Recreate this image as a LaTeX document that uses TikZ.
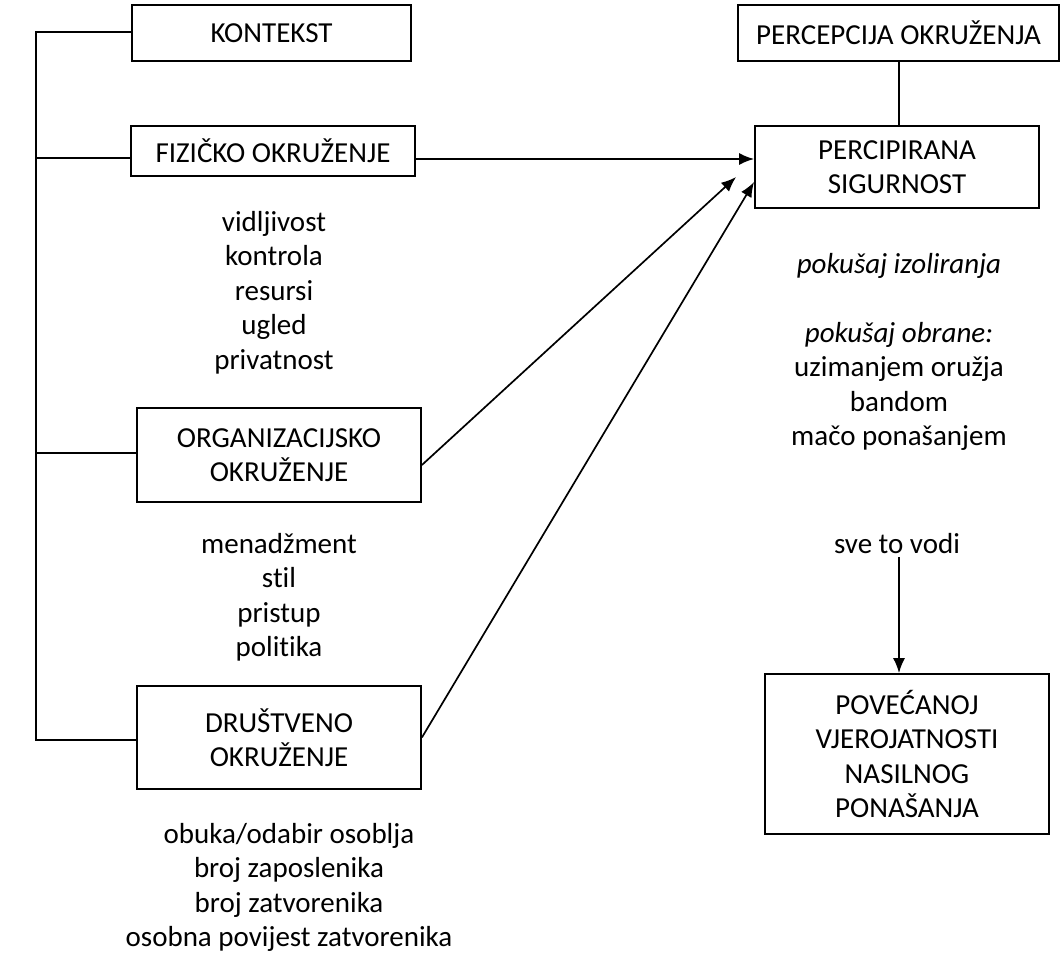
\documentclass[tikz,border=0pt]{standalone}
\usepackage{fontspec}
\setmainfont{Carlito}[Ligatures=CommonOff]
\usetikzlibrary{arrows.meta,calc}
\tikzset{
  box/.style={draw=black, line width=1.8pt, inner sep=0pt, align=center,
    font=\fontsize{29}{34.5}\selectfont, text=black},
  conn/.style={draw=black, line width=1.7pt},
  arr/.style={conn, -{Latex[length=15pt,width=12pt]}},
  lst/.style={inner sep=0pt, align=center, anchor=base, text=black,
    font=\fontsize{29}{34.5}\selectfont}
}
\begin{document}
\begin{tikzpicture}[x=1pt,y=-1pt]
\useasboundingbox (0,0) rectangle (1061,955);
\fill[white] (0,0) rectangle (1061,955);
% boxes
\node[box, minimum width=279pt, minimum height=56pt] (ctx) at (271.5,33) {KONTEKST};
\node[box, minimum width=284pt, minimum height=50pt] (fiz) at (273,151) {FIZIČKO OKRUŽENJE};
\node[box, minimum width=284pt, minimum height=94pt] (org) at (279,455) {ORGANIZACIJSKO\\OKRUŽENJE};
\node[box, minimum width=284pt, minimum height=103pt] (dru) at (279,737.5) {DRUŠTVENO\\OKRUŽENJE};
\node[box, minimum width=321pt, minimum height=56pt] (pe) at (898.5,33) {PERCEPCIJA OKRUŽENJA};
\node[box, minimum width=284pt, minimum height=82pt] (perc) at (897,167) {PERCIPIRANA\\SIGURNOST};
\node[box, minimum width=284pt, minimum height=160pt] (pov) at (907,754) {POVEĆANOJ\\VJEROJATNOSTI\\NASILNOG\\PONAŠANJA};
% lists (anchored at the baseline of their last line)
\node[lst] (l1) at (274,369) {vidljivost\\kontrola\\resursi\\ugled\\privatnost};
\node[lst] (l2) at (279,656.5) {menadžment\\stil\\pristup\\politika};
\node[lst] (l3) at (289,946.5) {obuka/odabir osoblja\\broj zaposlenika\\broj zatvorenika\\osobna povijest zatvorenika};
\node[lst] (r1) at (899,445.5) {\itshape pokušaj izoliranja\\[34.5pt]\itshape pokušaj obrane:\\uzimanjem oružja\\bandom\\mačo ponašanjem};
\node[lst] (sve) at (897,553) {sve to vodi};
% spine
\coordinate (sTop) at (36,32);
\coordinate (sBot) at (36,740);
\draw[conn] ([yshift=1pt]ctx.west) -- (sTop) -- (sBot) -- (sBot -| dru.west);
\draw[conn] ([yshift=-7pt]fiz.west) -- ([yshift=-7pt]fiz.west -| sTop);
\draw[conn] ([yshift=2pt]org.west) -- ([yshift=2pt]org.west -| sTop);
% right connectors
\draw[conn] ([xshift=0.5pt]pe.south) -- ([xshift=0.5pt]pe.south |- perc.north);
\draw[arr] ([yshift=-8pt]fiz.east) -- ([yshift=-8pt]fiz.east -| perc.west);
\coordinate (t2) at ([xshift=-18pt,yshift=-10pt]perc.west);
\coordinate (t3) at ([yshift=-15pt]perc.west);
\draw[arr] ([yshift=-10pt]org.east) -- (t2);
\draw[arr] (dru.east) -- (t3);
\draw[arr] ([xshift=2pt,yshift=-4pt]sve.south) -- ([xshift=2pt]sve.south |- pov.north);
\end{tikzpicture}
\end{document}
